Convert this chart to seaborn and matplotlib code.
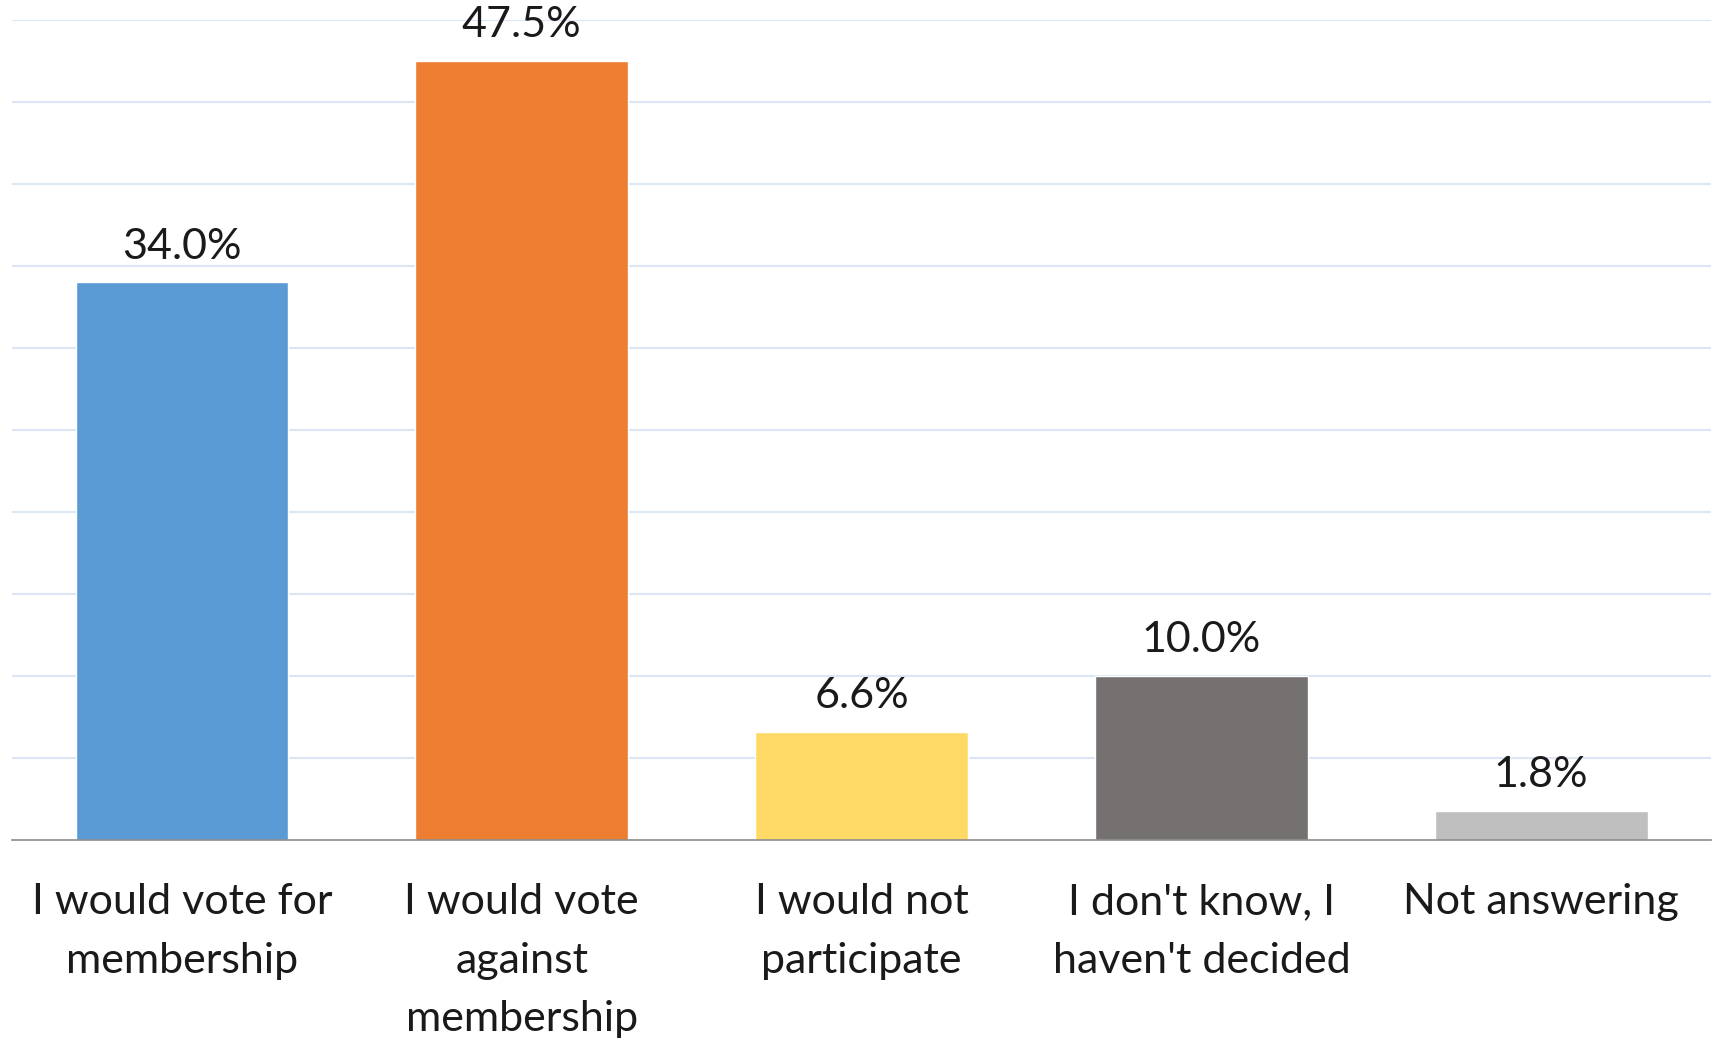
import pandas as pd
import seaborn as sns
import matplotlib.pyplot as plt

categories = ["I would vote for\nmembership", "I would vote\nagainst\nmembership",
              "I would not\nparticipate", "I don't know, I\nhaven't decided", "Not answering"]
values = [34.0, 47.5, 6.6, 10.0, 1.8]
labels = ["34.0%", "47.5%", "6.6%", "10.0%", "1.8%"]
colors = ["#5B9BD5", "#ED7D31", "#FFD966", "#767171", "#BFBFBF"]

df = pd.DataFrame({"cat": categories, "val": values})

sns.set_style("white")
plt.rcParams['font.family'] = ['Lato', 'DejaVu Sans']

fig = plt.figure(figsize=(17.18, 10.41), dpi=100)
ax = fig.add_axes([0.007, 0.193, 0.989, 0.788])

sns.barplot(data=df, x="cat", y="val", hue="cat", palette=colors, legend=False,
            width=0.626, saturation=1, ax=ax, zorder=2)

ax.set_ylim(0, 50)
ax.set_xlim(-0.5, 4.5)
ax.set_yticks(range(5, 51, 5))
ax.yaxis.grid(True, color="#DCE6F4", linewidth=1.5, zorder=0)
ax.set_yticklabels([])
ax.tick_params(axis="y", length=0)

# data labels
for i, v in enumerate(values):
    ax.annotate(labels[i], (i, v), xytext=(0, 12), textcoords="offset points",
                ha="center", va="bottom", fontsize=31, color="#1a1a1a",
                annotation_clip=False)

# category ticks between bars
ax.set_xticks([i - 0.5 for i in range(6)], minor=True)
ax.tick_params(axis="x", which="minor", length=10, width=1.2, color="#8c8c8c")
ax.tick_params(axis="x", which="major", length=0, pad=31, labelsize=31, labelcolor="#1a1a1a")
for t in ax.get_xticklabels():
    t.set_linespacing(1.66)

ax.set_xlabel("")
ax.set_ylabel("")
for s in ["top", "right", "left"]:
    ax.spines[s].set_visible(False)
ax.spines["bottom"].set_color("#8c8c8c")
ax.spines["bottom"].set_linewidth(1.2)

fig.savefig("out.png", dpi=100, facecolor="white")
